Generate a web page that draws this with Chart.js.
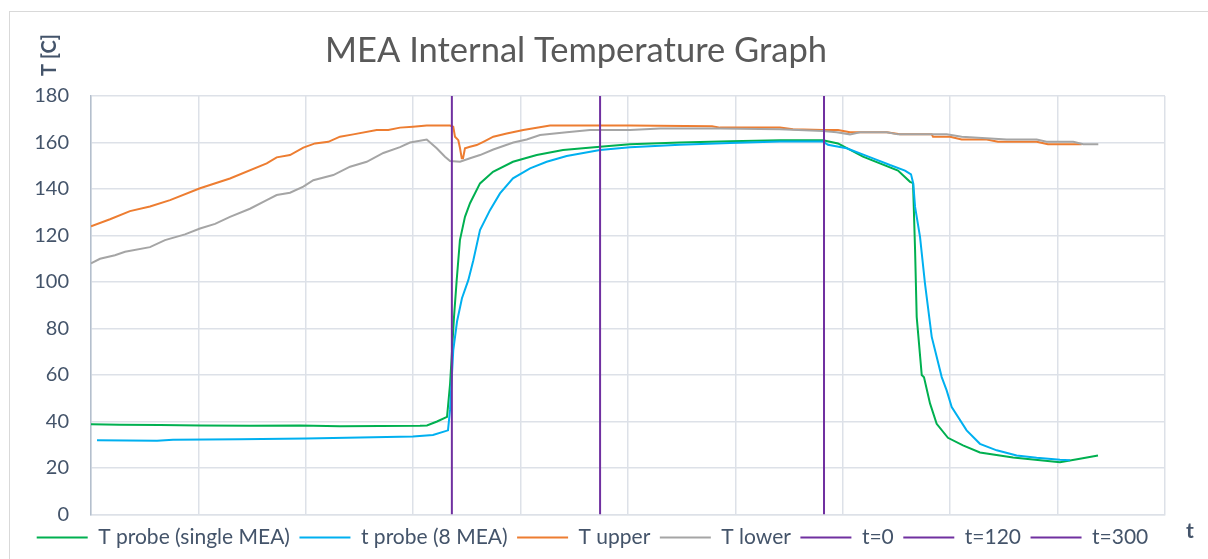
<!DOCTYPE html>
<html>
<head>
<meta charset="utf-8">
<title>MEA Internal Temperature Graph</title>
<script src="https://cdn.jsdelivr.net/npm/chart.js@4.4.0/dist/chart.umd.min.js"></script>
<style>
  html, body { margin: 0; padding: 0; background: #fff; }
</style>
</head>
<body>
<canvas id="graph" width="1208" height="559"></canvas>
<script>
// sample positions (x axis has no labels, 10 grid intervals of 100) and temperatures
var probeSingleX = [0, 27, 64.2, 101.5, 148, 194.6, 231.8, 269, 306.3, 312.8, 322.2, 331.5, 334.3, 336.1, 338, 340.5, 343.5, 348.2, 352.9, 362.2, 374.3, 392.9, 415, 439.5, 473.9, 501.9, 548.4, 595, 641.5, 681.6, 695.5, 718.8, 751.4, 762.6, 765.4, 767.3, 768.8, 773.5, 775.6, 781.2, 787.4, 797.9, 811.9, 827.7, 858.5, 902.2, 920.8, 937.6];
var probeSingleY = [38.8, 38.6, 38.5, 38.3, 38.2, 38.3, 38.0, 38.1, 38.2, 38.3, 40, 42, 56, 70, 85, 100.8, 118, 128, 133.9, 142.4, 147.4, 151.7, 154.6, 156.8, 158.2, 159.2, 160, 160.5, 161, 161, 159.6, 153.9, 147.9, 143.1, 142.5, 113.7, 85, 60, 59, 47.8, 39, 33, 29.7, 26.7, 24.5, 22.5, 24, 25.4];

var probe8X = [5.6, 61.5, 76.3, 138.7, 200.2, 250.5, 299.8, 318.4, 332.4, 334.3, 337.3, 340.8, 345.4, 351.3, 356, 362.2, 371.5, 380.8, 392.9, 408.8, 424.3, 442.9, 473.9, 501.9, 548.4, 595, 641.5, 681.6, 686.2, 703.6, 728.1, 743.9, 757.9, 763.5, 765.6, 767.3, 771.9, 776.5, 782.8, 785.9, 792.1, 796.7, 801.4, 815.3, 827.7, 843.3, 861.9, 880.5, 902.2, 911.5];
var probe8Y = [31.9, 31.7, 32.2, 32.4, 32.7, 33.1, 33.6, 34.2, 36.2, 45, 70.6, 83, 93, 100.8, 109.4, 122.3, 130.9, 138.1, 144.6, 148.9, 151.7, 154.2, 156.8, 158, 159, 159.8, 160.4, 160.4, 159, 157.5, 153.2, 150.3, 147.9, 146.3, 142.4, 132.3, 119.4, 99.4, 76.4, 70.6, 59.1, 53.4, 46.2, 36.2, 30.4, 27.6, 25.4, 24.4, 23.5, 23.3];

var upperX = [0, 17.7, 36.3, 54.9, 73.6, 101.5, 129.4, 163.6, 172.9, 185.3, 197.7, 208.6, 221, 231.8, 244.2, 266, 276.8, 287.7, 299.8, 312.6, 334.3, 337.3, 338.9, 342, 343.6, 345.2, 346.4, 348.2, 352.9, 359.1, 365.3, 374.6, 387.1, 402.5, 427.4, 501.9, 578.2, 585.7, 641.5, 653.6, 681.6, 695.5, 706.7, 740.9, 753.3, 782.8, 784, 799.8, 810.7, 834, 844.5, 880.5, 891, 922.4];
var upperY = [124, 127, 130.5, 132.5, 135.2, 140.3, 144.5, 151, 153.6, 154.6, 157.8, 159.6, 160.3, 162.5, 163.5, 165.4, 165.4, 166.4, 166.8, 167.3, 167.3, 166.8, 162.5, 161, 157.5, 153.2, 153.2, 157.5, 158.2, 158.9, 160.3, 162.5, 163.9, 165.4, 167.3, 167.3, 167, 166.4, 166.4, 165.7, 165.4, 165.4, 164.4, 164.4, 163.5, 163.5, 162.5, 162.5, 161.3, 161.3, 160.3, 160.3, 159.3, 159.3];

var lowerX = [0, 8.4, 22.3, 31.7, 54.9, 68.9, 87.5, 101.5, 115.5, 129.4, 148, 163.6, 172.9, 185.3, 197.7, 207, 225.6, 241.2, 256.7, 272.2, 287.7, 297, 312.6, 321.9, 329.6, 334.3, 343.6, 352.9, 362.2, 374.6, 393.2, 405.7, 418.1, 442.9, 464.6, 501.9, 529.8, 585.7, 641.5, 681.6, 694.3, 706.7, 716, 740.9, 751.4, 796.7, 810.7, 852.6, 880.5, 889.8, 914.6, 923.9, 937.9];
var lowerY = [108, 110, 111.5, 113, 115, 118, 120.5, 123, 125, 128, 131.5, 135.2, 137.4, 138.4, 141, 143.8, 146, 149.6, 151.7, 155.5, 158, 160, 161.3, 157.5, 153.9, 152, 151.7, 153.2, 154.6, 157, 160, 161.3, 163.2, 164.4, 165.4, 165.4, 166, 166, 165.7, 164.9, 164.4, 163.5, 164.4, 164.4, 163.5, 163.5, 162.5, 161.3, 161.3, 160.3, 160.3, 159.3, 159.3];

// vertical time markers
var markerNames = ["t=0", "t=120", "t=300"];
var markerX = [336, 474, 682.5];
var markerSpan = [0, 180];

var seriesNames = ["T probe (single MEA)", "t probe (8 MEA)", "T upper", "T lower"];
var seriesColors = ["#00B050", "#00B0F0", "#ED7D31", "#A5A5A5"];
var markerColor = "#7030A0";

var yTicks = [0, 20, 40, 60, 80, 100, 120, 140, 160, 180];

function pair(xs, ys) {
    var out = [];
    for (var i = 0; i < xs.length; i++) {
        out.push({ x: xs[i], y: ys[i] });
    }
    return out;
}

var seriesData = [pair(probeSingleX, probeSingleY), pair(probe8X, probe8Y), pair(upperX, upperY), pair(lowerX, lowerY)];

var datasets = [];
for (var i = 0; i < seriesNames.length; i++) {
    datasets.push({
        label: seriesNames[i],
        data: seriesData[i],
        borderColor: seriesColors[i],
        backgroundColor: seriesColors[i],
        borderWidth: 2,
        pointRadius: 0,
        tension: 0,
        order: -i
    });
}
for (var m = 0; m < markerNames.length; m++) {
    datasets.push({
        label: markerNames[m],
        data: [{ x: markerX[m], y: markerSpan[0] }, { x: markerX[m], y: markerSpan[1] }],
        borderColor: markerColor,
        backgroundColor: markerColor,
        borderWidth: 2,
        pointRadius: 0,
        order: -10 - m
    });
}

// title, axis titles and the outer frame are drawn on the canvas
var decorations = {
    id: "decorations",
    beforeDraw: function(chart) {
        var ctx = chart.ctx;
        ctx.save();
        ctx.fillStyle = "#fff";
        ctx.fillRect(0, 0, chart.width, chart.height);
        ctx.strokeStyle = "#d9d9d9";
        ctx.lineWidth = 1;
        ctx.strokeRect(9.5, 11.5, 1400, 700);
        ctx.restore();
    },
    afterDraw: function(chart) {
        var ctx = chart.ctx;
        ctx.save();
        ctx.fillStyle = "#595959";
        ctx.font = "34.5px Lato";
        ctx.textAlign = "center";
        ctx.textBaseline = "alphabetic";
        ctx.fillText("MEA Internal Temperature Graph", 576, 62);

        ctx.fillStyle = "#44546A";
        ctx.font = "bold 20px Lato";
        ctx.translate(50, 55);
        ctx.rotate(-Math.PI / 2);
        ctx.textBaseline = "middle";
        ctx.fillText("T [C]", 0, 0);
        ctx.restore();

        ctx.save();
        ctx.fillStyle = "#44546A";
        ctx.font = "bold 21px Lato";
        ctx.textAlign = "center";
        ctx.textBaseline = "middle";
        ctx.fillText("t", 1190, 531);
        ctx.restore();
    }
};

Chart.defaults.font.family = "Lato";

var ctx = document.getElementById("graph").getContext("2d");
var chart = new Chart(ctx, {
    type: "scatter",
    data: { datasets: datasets },
    plugins: [decorations],
    options: {
        responsive: false,
        animation: false,
        showLine: true,
        layout: { padding: { left: 20, right: 43, top: 96, bottom: 1 } },
        scales: {
            x: {
                type: "linear",
                min: 0,
                max: 1000,
                ticks: { display: false, stepSize: 100 },
                grid: { color: "#dde1e8", lineWidth: 1.5, drawTicks: true, tickLength: 3, tickColor: "rgba(0,0,0,0)" },
                border: { color: "#dde1e8", width: 1.5 }
            },
            y: {
                type: "linear",
                min: 0,
                max: 180,
                afterBuildTicks: function(scale) {
                    scale.ticks = yTicks.map(function(v) { return { value: v }; });
                },
                afterFit: function(scale) { scale.width = 71; },
                ticks: { color: "#44546A", font: { size: 20 }, padding: 22 },
                grid: { color: "#dde1e8", lineWidth: 1.5, drawTicks: false },
                border: { color: "#b4bfcd", width: 1.5 }
            }
        },
        plugins: {
            title: { display: false },
            tooltip: { enabled: false },
            legend: {
                position: "bottom",
                labels: {
                    boxWidth: 51,
                    boxHeight: 2,
                    padding: 9.5,
                    color: "#44546A",
                    font: { size: 21 },
                    sort: function(a, b) { return a.datasetIndex - b.datasetIndex; },
                    generateLabels: function(chart) {
                        var items = Chart.defaults.plugins.legend.labels.generateLabels(chart);
                        items.forEach(function(it) {
                            it.fillStyle = it.strokeStyle;
                            it.lineWidth = 0;
                        });
                        return items;
                    }
                }
            }
        }
    }
});
</script>
</body>
</html>
